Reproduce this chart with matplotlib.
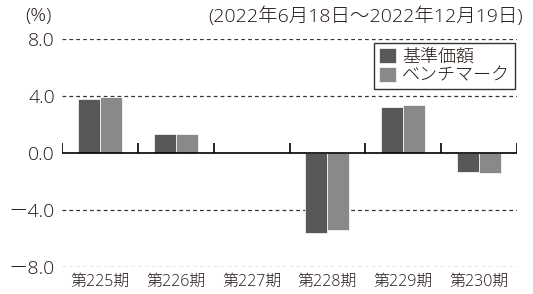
import matplotlib
matplotlib.use("Agg")
import matplotlib.pyplot as plt
import numpy as np

plt.rcParams['font.family'] = ['Open Sans', 'Noto Sans CJK JP', 'DejaVu Sans']
plt.rcParams['font.weight'] = 'light'

categories = ["第225期", "第226期", "第227期", "第228期", "第229期", "第230期"]
fund = [3.82, 1.36, -0.03, -5.59, 3.23, -1.33]
bench = [3.93, 1.31, -0.02, -5.40, 3.40, -1.38]
yticks = [-8.0, -4.0, 0.0, 4.0, 8.0]
ytick_labels = ["－8.0", "－4.0", "0.0", "4.0", "8.0"]

color_fund = "#595757"
color_bench = "#898989"
text_color = "#231815"

fig = plt.figure(figsize=(5.33, 2.94), dpi=100)
ax = fig.add_axes([62 / 533, 27 / 294, 455 / 533, 228 / 294])

x = np.arange(len(categories))
w = 0.29
ax.bar(x - w / 2, fund, w, color=color_fund, edgecolor="white", linewidth=0.5,
       label="基準価額", zorder=3)
ax.bar(x + w / 2, bench, w, color=color_bench, edgecolor="white", linewidth=0.5,
       label="ベンチマーク", zorder=3)

ax.set_xlim(-0.5, len(categories) - 0.5)
ax.set_ylim(-8, 8)

# dashed grid lines
for v in [8, 4, -4, -8]:
    ax.axhline(v, color="#333333", linestyle=(0, (3, 2.5)), linewidth=0.9, zorder=1)

# zero line with category separators
ax.axhline(0, color="black", linewidth=1.2, zorder=4)
for b in np.arange(-0.5, len(categories), 1.0):
    ax.plot([b, b], [0, 0.7], color="black", linewidth=1.2, zorder=4,
            solid_capstyle="butt")

for spine in ax.spines.values():
    spine.set_visible(False)

ax.set_yticks(yticks)
ax.set_yticklabels(ytick_labels, fontsize=14, color=text_color)
ax.set_xticks(x)
ax.set_xticklabels(categories, fontsize=11.5, color=text_color)
ax.tick_params(axis="both", length=0)
ax.tick_params(axis="x", pad=5)
ax.tick_params(axis="y", pad=5)

fig.text(38 / 533, 1 - 16 / 294, "(%)", fontsize=14, ha="center", va="center",
         color=text_color)
fig.text(523 / 533, 1 - 16 / 294, "(2022年6月18日～2022年12月19日)", fontsize=14,
         ha="right", va="center", color=text_color)

leg = ax.legend(loc="upper right", bbox_to_anchor=(0.995, 0.982), fontsize=13,
                frameon=True, fancybox=False, edgecolor="black",
                handlelength=0.95, handleheight=0.95, handletextpad=0.35,
                borderpad=0.25, labelspacing=0.05, borderaxespad=0.0,
                labelcolor=text_color)
leg.get_frame().set_linewidth(1.0)

fig.savefig("out.png", dpi=100)
